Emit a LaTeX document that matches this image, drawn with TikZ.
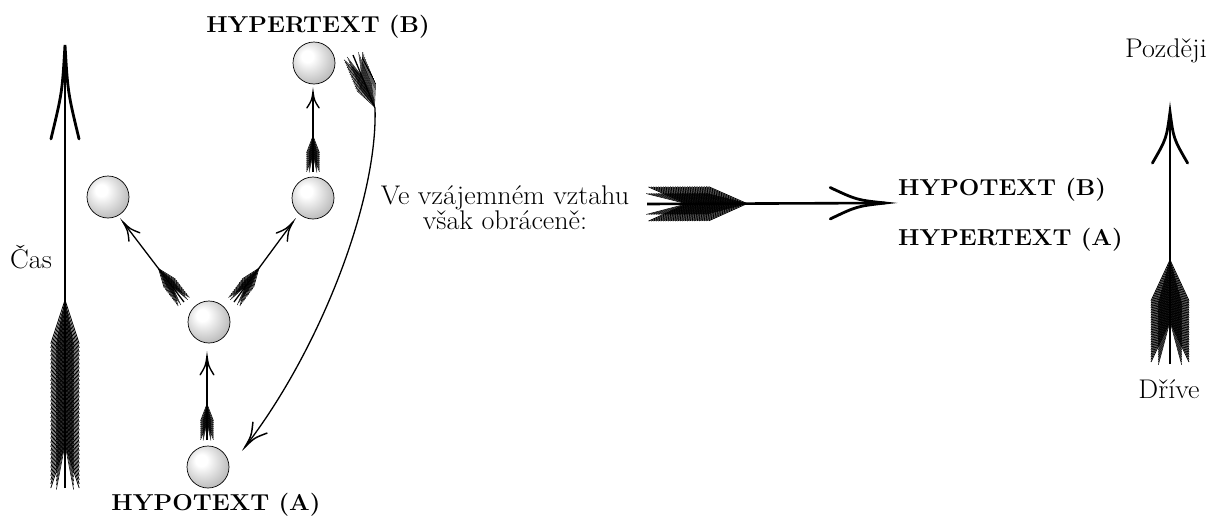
\documentclass[tikz,border=0pt]{standalone}
\usepackage{fontspec}
\usepackage{graphicx}
\usetikzlibrary{calc}

\pgfdeclareradialshading{sph}{\pgfpoint{-9bp}{9bp}}{%
 color(0bp)=(white); color(7bp)=(white); color(20bp)=(gray!30); color(34bp)=(gray!62); color(60bp)=(black!75)}

\pgfkeys{/fa/.cd,
 flen/.store in=\faflen, feather/.store in=\fafeather, angle/.store in=\faangle, n/.store in=\fan,
 head/.store in=\fahead, hang/.store in=\fahang, lw/.store in=\falw, flw/.store in=\faflw, hlw/.store in=\fahlw}
\newcommand\fareset{\pgfkeys{/fa/.cd,flen=40,feather=18,angle=20,n=10,head=18,hang=20,lw=1.2,flw=0.6,hlw=1.4}}

% feathers between a tail point #2 and a point #3 further towards the tip
\newcommand\fletch[3][]{%
 \fareset\pgfkeys{/fa/.cd,#1}%
 \coordinate (fa-back) at ($(#2)!-300pt!(#3)$);
 \pgfmathsetmacro\faangB{0.6*\faangle}%
 \foreach \k in {1,...,\fan}{%
  \pgfmathsetmacro\dd{\fafeather*0.95+(\faflen-\fafeather*0.95)*(\k-1)/(\fan-1)}%
  \coordinate (fa-q) at ($(#2)!\dd pt!(#3)$);
  \draw[line width=\faflw pt] ($(fa-q)!\fafeather pt!\faangle:(fa-back)$) -- (fa-q) -- ($(fa-q)!\fafeather pt!-\faangle:(fa-back)$);
  \draw[line width=0.7*\faflw pt] ($(fa-q)!\fafeather pt!\faangB:(fa-back)$) -- (fa-q) -- ($(fa-q)!\fafeather pt!-\faangB:(fa-back)$);
 }}
% open curved head at tip #3, coming from direction of #2
\newcommand\ahead[3][]{%
 \fareset\pgfkeys{/fa/.cd,#1}%
 \pgfmathsetmacro\hh{0.5*\fahead}\pgfmathsetmacro\ha{0.4*\fahang}%
 \draw[line width=\fahlw pt, line cap=round]
   ($(#3)!\fahead pt!\fahang:(#2)$) .. controls ($(#3)!\hh pt!\ha:(#2)$) .. (#3)
   .. controls ($(#3)!\hh pt!-\ha:(#2)$) .. ($(#3)!\fahead pt!-\fahang:(#2)$);}
\newcommand\farrow[3][]{%
 \fletch[#1]{#2}{#3}%
 \fareset\pgfkeys{/fa/.cd,#1}%
 \draw[line width=\falw pt] (#2) -- (#3);
 \ahead[#1]{#2}{#3}}

\newcommand\wide[1]{\scalebox{1.04}[1]{#1}}
\newcommand\widelbl[1]{\scalebox{1.057}[1]{#1}}

\tikzset{
 ball/.style={circle, draw=black, line width=0.7pt, minimum size=42pt, inner sep=0pt, shading=sph},
 lbl/.style={inner sep=0pt, font=\fontsize{23}{26}\selectfont\bfseries},
 txt/.style={inner sep=0pt, font=\fontsize{27}{24}\selectfont},
}

\begin{document}
\begin{tikzpicture}[x=1pt,y=-1pt]
\useasboundingbox[fill=white] (0,0) rectangle (1210,517);

% spheres
\node[ball] (sT) at (314,63) {};
\node[ball] (sL) at (108,197) {};
\node[ball] (sR) at (313,198) {};
\node[ball] (sM) at (209,322) {};
\node[ball] (sB) at (208,467) {};

% labels
\node[lbl, anchor=base] (hyB) at (318,32) {\widelbl{HYPERTEXT (B)}};
\node[lbl, anchor=base] (hyA) at (216,510) {\widelbl{HYPOTEXT (A)}};
\node[lbl, anchor=base west] (hoB) at (898,195) {\widelbl{HYPOTEXT (B)}};
\node[lbl, anchor=base west] (heA) at (898,245) {\widelbl{HYPERTEXT (A)}};
\node[txt, anchor=base] (ve1) at (505,204) {\wide{Ve vzájemném vztahu}};
\node[txt, anchor=base] (ve2) at (505,229) {\wide{však obráceně:}};
\node[txt, anchor=base west] (cas) at (10,268) {\wide{Čas}};
\node[txt, anchor=base east] (poz) at (1207,57) {\wide{Později}};
\node[txt, anchor=base] (dri) at (1169,398) {\wide{Dříve}};

% arrow end points
\coordinate (tT) at (65,488);  \coordinate (hT) at (65,45);
\coordinate (t1) at (207,440); \coordinate (h1) at (207,356);
\coordinate (t2) at (313,172); \coordinate (h2) at (313,92);
\coordinate (t3) at (184,302); \coordinate (h3) at (123,222);
\coordinate (t4) at (234,302); \coordinate (h4) at (293,222);
\coordinate (tH) at (647,204); \coordinate (hH) at (885,203);
\coordinate (tR) at (1170,364); \coordinate (hR) at (1170,112);

% time arrow (left)
\farrow[flen=188,feather=46,angle=18,n=36,lw=2.6,flw=0.8,head=95,hang=8.5,hlw=2.8]{tT}{hT}
% small arrows between spheres
\farrow[flen=36,feather=18,angle=21,n=10,lw=1.3,flw=0.6,head=20,hang=20,hlw=1.4]{t1}{h1}
\farrow[flen=36,feather=18,angle=21,n=10,lw=1.3,flw=0.6,head=17,hang=21,hlw=1.4]{t2}{h2}
\farrow[flen=42,feather=20,angle=21,n=11,lw=1.3,flw=0.6,head=20,hang=20,hlw=1.4]{t3}{h3}
\farrow[flen=42,feather=20,angle=21,n=11,lw=1.3,flw=0.6,head=20,hang=20,hlw=1.4]{t4}{h4}
% horizontal arrow
\farrow[flen=100,feather=42,angle=24,n=26,lw=2.6,flw=0.8,head=57,hang=16,hlw=2.8]{tH}{hH}
% right arrow
\farrow[flen=104,feather=45,angle=25,n=26,lw=2.4,flw=0.8,head=54,hang=19,hlw=2.8]{tR}{hR}

% curved arrow from hypertext (B) back to hypotext (A)
\coordinate (ct) at (353,55); \coordinate (cj) at (375,108);
\coordinate (cc1) at (378,200); \coordinate (cc2) at (320,350);
\coordinate (ctip) at (245,447);
\draw[line width=1.3pt] (ct) -- (cj) .. controls (cc1) and (cc2) .. (ctip);
\fletch[flen=56,feather=24,angle=25,n=14,flw=0.6]{ct}{cj}
\ahead[head=26,hang=20,hlw=1.5]{cc2}{ctip}
\end{tikzpicture}
\end{document}
